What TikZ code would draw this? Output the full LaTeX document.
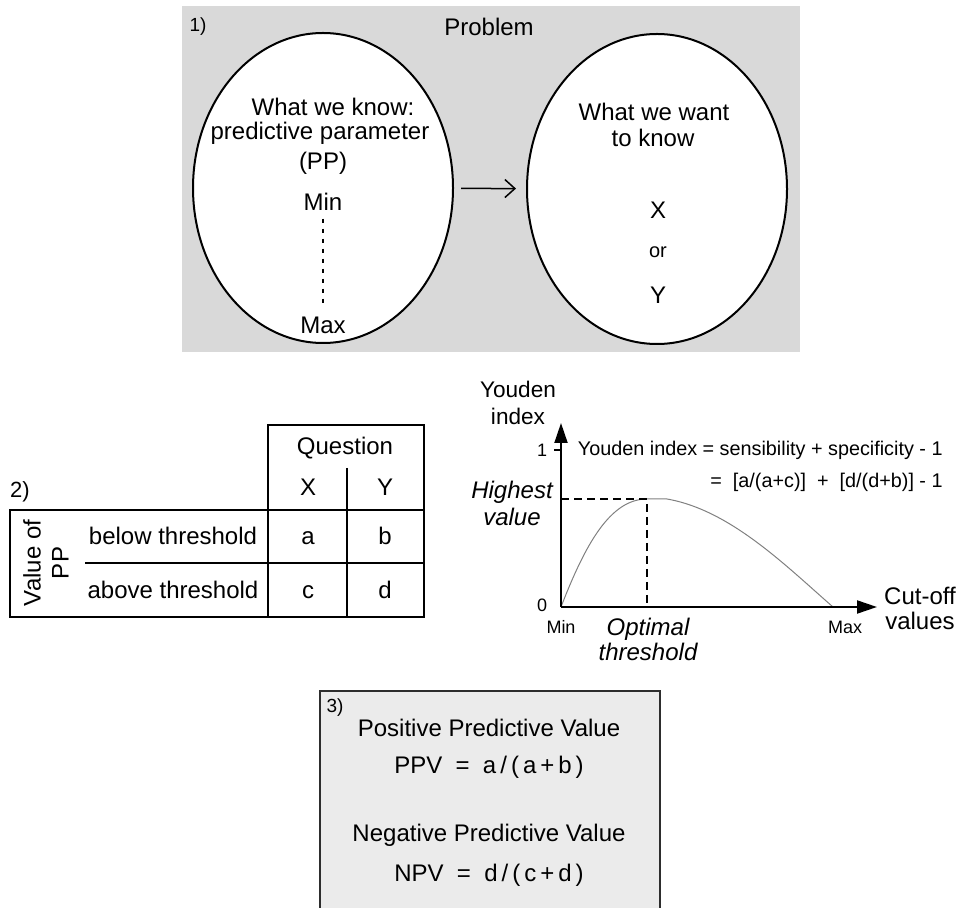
\documentclass[tikz,border=0pt]{standalone}
\usepackage{fontspec}
\setmainfont{Liberation Sans}
\usetikzlibrary{shapes.geometric,arrows.meta}

\begin{document}
\begin{tikzpicture}[
    x=0.5pt, y=-0.5pt,
    every node/.style={font=\fontsize{12}{14}\selectfont, inner sep=0pt, align=center},
    bubble/.style={draw, fill=white, ellipse, line width=1pt, minimum width=130pt, minimum height=155pt},
    cell/.style={text height=8.6pt, text depth=0pt},
    tag/.style={font=\fontsize{9.5}{11}\selectfont},
    ticklabel/.style={font=\fontsize{9}{11}\selectfont},
    formula/.style={font=\fontsize{9.9}{12}\selectfont, anchor=east},
    slanted/.style={font=\fontsize{12}{13}\selectfont\itshape},
    rule/.style={line width=1pt},
    axis/.style={line width=1pt, -{Triangle[length=10pt,width=6.5pt]}},
    guide/.style={line width=1pt, dash pattern=on 4pt off 2.5pt},
    curve/.style={line width=0.5pt, gray},
  ]
  \useasboundingbox (0,0) rectangle (958,908);

  % 1) the problem
  \fill[gray!30] (182,6) rectangle (800,352);
  \node[tag] (tag1) at (198,27) {1)};
  \node (problem) at (489,27) {Problem};
  \node[bubble] (know) at (323,188) {};
  \node[bubble] (want) at (657,189) {};
  \draw[line width=0.75pt, -{Straight Barb[length=5pt,width=9pt]},
        shorten <=3.5pt, shorten >=5pt] (know) -- (want);

  \node (know1) at (333,107) {What we know:};
  \node (know2) at (320,133) {predictive parameter};
  \node (know3) at (323,163) {(PP)};
  \node (kmin) at (323,202) {Min};
  \node (kmax) at (323,325) {Max};
  \draw[line width=1pt, dash pattern=on 2pt off 3pt, shorten <=3.75pt, shorten >=5.75pt]
    (kmin) -- (kmax);

  \node (want1) at (654,112) {What we want};
  \node (want2) at (653,138) {to know};
  \node (wantx) at (658,210) {X};
  \node[font=\fontsize{10}{12}\selectfont] (wantor) at (658,252) {or};
  \node (wanty) at (658,295) {Y};

  % 2) the table
  \draw[rule] (10,510) rectangle (424,617);
  \draw[rule] (268,425) rectangle (424,510);
  \draw[rule] (268,510) -- (268,617);
  \draw[rule] (347,468) -- (347,617);
  \draw[rule] (85,563) -- (424,563);

  \node[font=\fontsize{11}{13}\selectfont] (tag2) at (20,492) {2)};
  \node (question) at (345,448) {Question};
  \node[cell] (colx) at (308,487) {X};
  \node[cell] (coly) at (385,487) {Y};
  \node[rotate=90] (valpp) at (46,563) {Value of\\PP};
  \node[cell] (below) at (173,536) {below threshold};
  \node[cell] (above) at (173,590) {above threshold};
  \node[cell] (ca) at (308,536) {a};
  \node[cell] (cb) at (385,536) {b};
  \node[cell] (cc) at (308,590) {c};
  \node[cell] (cd) at (385,590) {d};

  % Youden index graph
  \coordinate (O) at (561,607);
  \coordinate (ytip) at (561,423);
  \coordinate (xtip) at (877,607);
  \coordinate (hv) at (561,499);
  \coordinate (peak) at (647,499);
  \coordinate (foot) at (647,607);
  \coordinate (maxpt) at (833,607);

  \draw[curve] (O) .. controls (585,545) and (610,499) .. (peak) -- (667,499)
    .. controls (730,510) and (785,565) .. (maxpt);
  \draw[guide] (hv) -- (peak) -- (foot);
  \draw[axis] (O) -- (ytip);
  \draw[axis] (O) -- (xtip);
  \draw[rule] (554,450) -- (561,450);

  \node[font=\fontsize{11.3}{13.5}\selectfont] (ylabel) at (518,403) {Youden\\index};
  \node[ticklabel] (one) at (542,450) {1};
  \node[ticklabel] (zero) at (542,605) {0};
  \node[slanted, font=\fontsize{12}{13.5}\selectfont\itshape] (highest) at (512,503) {Highest\\value};
  \node[ticklabel] (gmin) at (561,627) {Min};
  \node[ticklabel] (gmax) at (845,627) {Max};
  \node[slanted, font=\fontsize{12}{12.5}\selectfont\itshape] (optimal) at (648,639) {Optimal\\threshold};
  \node[font=\fontsize{12}{12.5}\selectfont] (xlabel) at (920,608) {Cut-off\\values};
  \node[formula] (eq1) at (943,450) {Youden index = sensibility + specificity - 1};
  \node[formula] (eq2) at (943,482) {=~~[a/(a+c)]~~+~~[d/(d+b)]~-~1};

  % 3) predictive values
  \fill[gray!16] (320,691) rectangle (660,908);
  \draw[line width=1pt, gray!35!black] (320,908) -- (320,691) -- (660,691) -- (660,908);
  \node[tag] (tag3) at (335,708) {3)};
  \node (ppvname) at (489,728) {Positive Predictive Value};
  \node (ppv) at (489,767) {PPV~~=~~a\,/\,(\,a\,+\,b\,)};
  \node (npvname) at (489,835) {Negative Predictive Value};
  \node (npv) at (489,875) {NPV~~=~~d\,/\,(\,c\,+\,d\,)};
\end{tikzpicture}
\end{document}
